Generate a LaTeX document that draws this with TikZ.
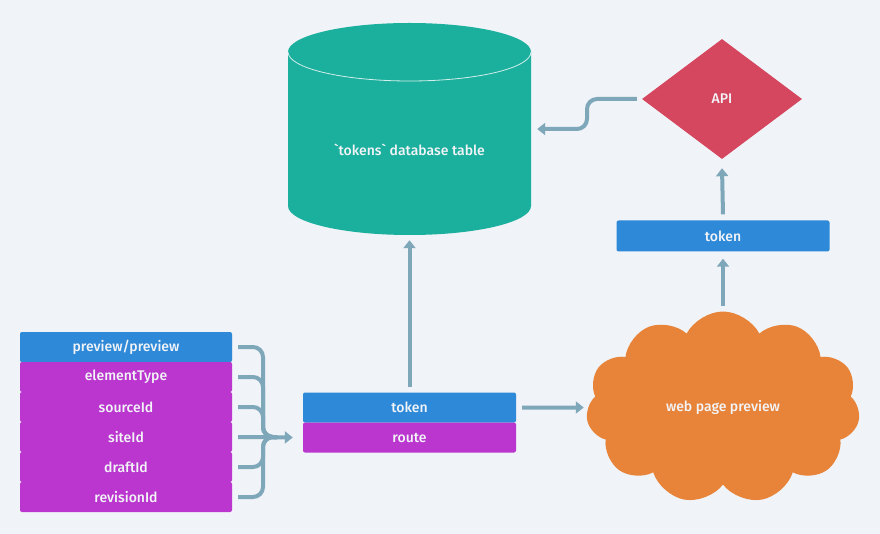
\documentclass[tikz,border=0pt]{standalone}
\usepackage{fontspec}
\setmainfont{Fira Sans}[UprightFont=* Medium]
\usetikzlibrary{arrows.meta,shapes.geometric,shapes.symbols,shadows}
\definecolor{bg}{RGB}{240,243,247}
\definecolor{bluec}{RGB}{46,137,216}
\definecolor{purc}{RGB}{186,54,206}
\definecolor{tealc}{RGB}{27,175,157}
\definecolor{redc}{RGB}{212,71,94}
\definecolor{orc}{RGB}{232,132,58}
\definecolor{arrc}{RGB}{127,167,186}
\definecolor{txt}{RGB}{242,244,247}
\begin{document}
\begin{tikzpicture}[x=1pt,y=-1pt,
  shd/.style={drop shadow={shadow xshift=0pt,shadow yshift=-1.2pt,fill=black,opacity=0.12}},
  lbl/.style={text=txt,font=\fontsize{14}{16}\selectfont},
  rowbox/.style={lbl,minimum width=212pt,minimum height=30pt,inner sep=0pt,rounded corners=2pt},
  bluebox/.style={rowbox,fill=bluec},
  purbox/.style={rowbox,fill=purc},
  conn/.style={draw=arrc,line width=4pt,rounded corners=10pt},
  arr/.style={draw=arrc,line width=4pt,-{Triangle[length=8pt,width=12pt]}},
]
\fill[bg] (0,0) rectangle (880,534);
\useasboundingbox (0,0) rectangle (880,534);

% left stack
\node[bluebox,shd] (r1) at (126,347) {preview/preview};
\node[purbox] (r2) at (126,377) {elementType};
\node[purbox] (r3) at (126,407) {sourceId};
\node[purbox] (r4) at (126,437) {siteId};
\node[purbox] (r5) at (126,467) {draftId};
\node[purbox] (r6) at (126,497) {revisionId};

% middle stack
\node[bluebox,minimum width=213pt] (token) at (409.5,407.5) {token};
\node[purbox,minimum width=213pt] (route) at (409.5,437.5) {route};

% brace
\coordinate (bx) at (263,437);
\draw[conn] ([xshift=6pt]r1.east) -| (bx) -- ++(14,0);
\draw[conn] ([xshift=6pt]r2.east) -| (bx) -- ++(14,0);
\draw[conn] ([xshift=6pt]r3.east) -| (bx) -- ++(14,0);
\draw[conn] ([xshift=6pt]r5.east) -| (bx) -- ++(14,0);
\draw[conn] ([xshift=6pt]r6.east) -| (bx) -- ++(14,0);
\draw[arr] ([xshift=6pt]r4.east) -- ([xshift=-10pt]route.west);

% database cylinder
\node[inner sep=0pt,minimum width=243pt,minimum height=212pt] (db) at (409.5,129) {};
\fill[tealc] (288,52) -- (288,206)
  arc[start angle=180,end angle=360,x radius=121.5pt,y radius=29pt]
  -- (531,52)
  arc[start angle=0,end angle=180,x radius=121.5pt,y radius=29pt] -- cycle;
\draw[white!80!tealc,line width=0.8pt] (288,52)
  arc[start angle=180,end angle=360,x radius=121.5pt,y radius=29pt];
\node[lbl] (dbl) at (409.5,150) {\textasciigrave tokens\textasciigrave\ database table};

% API diamond
\node[diamond,fill=redc,lbl,minimum width=160pt,minimum height=120pt,aspect=1.333,inner sep=0pt] (api) at (722,99) {API};

% token right
\node[bluebox,minimum width=213pt,minimum height=31pt] (tok2) at (723,236) {token};

% cloud
\node[cloud,cloud puffs=11,cloud puff arc=125,aspect=1.43,fill=orc,lbl,
  minimum width=274pt,minimum height=192pt,inner sep=0pt] (cloud) at (723,407.5) {web page preview};

% connectors
\draw[arr] ([yshift=5pt]token.north) -- ([yshift=-5pt]db.south);
\draw[arr] ([xshift=6pt]token.east) -- ([xshift=-4pt]cloud.west);
\draw[arr] ([yshift=5pt]cloud.north) -- ([yshift=-7pt]tok2.south);
\draw[arr] ([yshift=6pt]tok2.north) -- ([yshift=-9pt]api.south);
\draw[arr,rounded corners=10pt] ([xshift=-5pt]api.west) -- (587,99) |- ([xshift=6pt]db.east);
\end{tikzpicture}
\end{document}
